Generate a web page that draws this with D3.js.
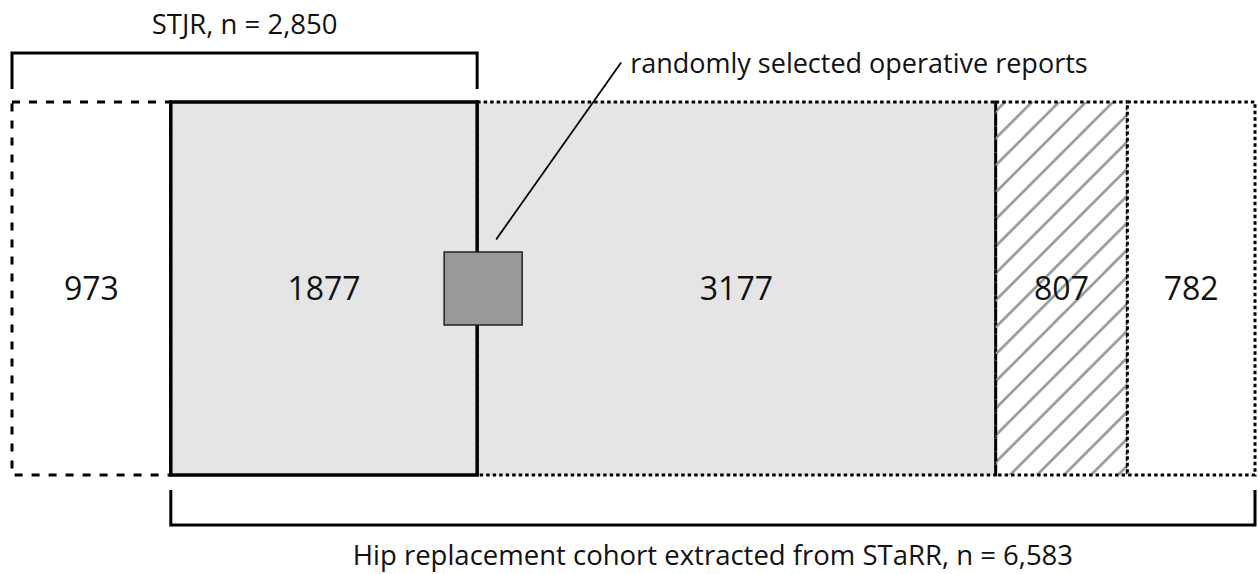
<!DOCTYPE html>
<html>
<head>
<meta charset="utf-8">
<script src="https://cdn.jsdelivr.net/npm/d3@7"></script>
<style>
  body { margin: 0; background: #fff; }
  svg { display: block; font-family: "Open Sans", sans-serif; }
</style>
</head>
<body>
<div id="chart"></div>
<script>
// Dimensions
const width = 1258;
const height = 574;

// Data
const segments = ["noStarr", "stjrStarr", "starrOnly", "excluded", "other"];
const counts = [973, 1877, 3177, 807, 782];
const topBracketLabel = "STJR, n = 2,850";
const bottomBracketLabel = "Hip replacement cohort extracted from STaRR, n = 6,583";
const sampleLabel = "randomly selected operative reports";

// Which segments each bracket covers
const topBracket = [0, 1];
const bottomBracket = [1, 4];

// Look per segment (kept apart from data)
const segStyle = {
    noStarr:   { fill: "#ffffff", dash: "8,9",   width: 3 },
    stjrStarr: { fill: "#e5e5e5", dash: null,    width: 3.5 },
    starrOnly: { fill: "#e5e5e5", dash: "3.5,3", width: 3 },
    excluded:  { fill: "url(#hatch)", dash: "3.5,3", width: 3 },
    other:     { fill: "#ffffff", dash: "3.5,3", width: 3 }
};

// Cumulative offsets
const starts = [];
counts.reduce((acc, v, i) => { starts[i] = acc; return acc + v; }, 0);
const total = d3.sum(counts);

const x = d3.scaleLinear().domain([0, total]).range([12, 1255]);
const y = d3.scaleLinear().domain([0, 1]).range([102, 475]);

const svg = d3.select("#chart").append("svg")
    .attr("width", width)
    .attr("height", height);

// Hatch pattern
const hs = 27;
svg.append("defs").append("pattern")
    .attr("id", "hatch")
    .attr("patternUnits", "userSpaceOnUse")
    .attr("width", hs)
    .attr("height", hs)
  .append("path")
    .attr("d", `M-2,2 l4,-4 M0,${hs} l${hs},${-hs} M${hs - 2},${hs + 2} l4,-4`)
    .attr("stroke", "#9d9d9d")
    .attr("stroke-width", 2.8);

const data = segments.map((k, i) => ({ key: k, value: counts[i], start: starts[i] }));

// Draw the solid box last so it sits on top of the neighbours' borders
const order = [0, 2, 3, 4, 1];
svg.append("g").selectAll("rect")
    .data(order.map(i => data[i]))
    .join("rect")
    .attr("x", d => x(d.start))
    .attr("y", y(0))
    .attr("width", d => x(d.start + d.value) - x(d.start))
    .attr("height", y(1) - y(0))
    .attr("fill", d => segStyle[d.key].fill)
    .attr("stroke", "#000")
    .attr("stroke-width", d => segStyle[d.key].width)
    .attr("stroke-dasharray", d => segStyle[d.key].dash);

// Counts
svg.append("g").selectAll("text")
    .data(data)
    .join("text")
    .attr("x", d => x(d.start + d.value / 2))
    .attr("y", y(0.5) + 11.5)
    .attr("text-anchor", "middle")
    .attr("font-size", 32)
    .attr("fill", "#111")
    .text(d => d.value);

// Brackets
function bracket(i0, i1, yLine, yEnd) {
    const x0 = x(starts[i0]);
    const x1 = x(starts[i1] + counts[i1]);
    svg.append("path")
        .attr("d", `M${x0},${yEnd} V${yLine} H${x1} V${yEnd}`)
        .attr("fill", "none")
        .attr("stroke", "#000")
        .attr("stroke-width", 3);
    return (x0 + x1) / 2;
}

const topMid = bracket(topBracket[0], topBracket[1], 53, 89);
svg.append("text")
    .attr("x", topMid)
    .attr("y", 34)
    .attr("text-anchor", "middle")
    .attr("font-size", 27.5)
    .attr("fill", "#111")
    .text(topBracketLabel);

const botMid = bracket(bottomBracket[0], bottomBracket[1], 525, 490);
svg.append("text")
    .attr("x", botMid)
    .attr("y", 565)
    .attr("text-anchor", "middle")
    .attr("font-size", 27.5)
    .attr("fill", "#111")
    .text(bottomBracketLabel);

// Sample box on the boundary between segment 1 and 2
const bx = x(starts[2]) + 6;
const by = y(0.5);
svg.append("rect")
    .attr("x", bx - 39)
    .attr("y", by - 36.5)
    .attr("width", 78)
    .attr("height", 73)
    .attr("fill", "#999999")
    .attr("stroke", "#222")
    .attr("stroke-width", 1.5);

svg.append("line")
    .attr("x1", bx + 13)
    .attr("y1", by - 49)
    .attr("x2", bx + 138)
    .attr("y2", by - 226)
    .attr("stroke", "#000")
    .attr("stroke-width", 1.8);

svg.append("text")
    .attr("x", bx + 147)
    .attr("y", 73)
    .attr("font-size", 27)
    .attr("fill", "#111")
    .text(sampleLabel);
</script>
</body>
</html>
